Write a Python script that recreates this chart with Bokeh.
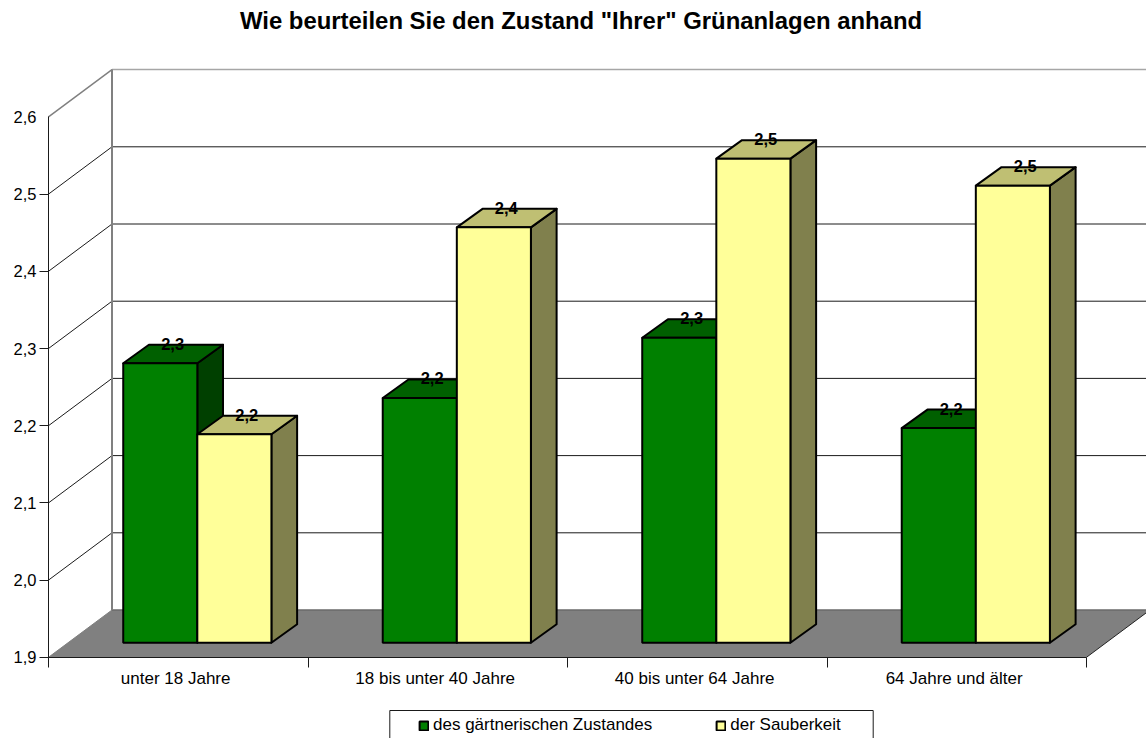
from bokeh.plotting import figure
from bokeh.models import BoxAnnotation, ColumnDataSource, FixedTicker, Label, LinearAxis, Legend, LegendItem, Range1d
from bokeh.core.properties import value
from bokeh.embed import file_html
from bokeh.resources import INLINE

# ---- data
title_text = 'Wie beurteilen Sie den Zustand "Ihrer" Grünanlagen anhand'
categories = ["unter 18 Jahre", "18 bis unter 40 Jahre", "40 bis unter 64 Jahre", "64 Jahre und älter"]
series_names = ["des gärtnerischen Zustandes", "der Sauberkeit"]
gaertnerisch = [2.262, 2.217, 2.295, 2.178]
sauberkeit = [2.170, 2.438, 2.527, 2.492]
gaertnerisch_labels = ["2,3", "2,2", "2,3", "2,2"]
sauberkeit_labels = ["2,2", "2,4", "2,5", "2,5"]
y_ticks = [1.9, 2.0, 2.1, 2.2, 2.3, 2.4, 2.5, 2.6]
y_tick_labels = ["1,9", "2,0", "2,1", "2,2", "2,3", "2,4", "2,5", "2,6"]

# ---- projection of the pseudo-3D box, in axis units
W, H = 1146, 738
ORIGIN_X, ORIGIN_Y = 48.0, 656.8    # where category 0 / value 1.9 fall on the page
PX_X, PX_Y = 259.5, 772.0           # px per category, px per value unit
WALL_DX, WALL_DY = 63.5 / PX_X, 47.3 / PX_Y
BAR_DX, BAR_DY = 25.7 / PX_X, 18.5 / PX_Y
BASE_DY = 14.6 / PX_Y
OFFSETS = (0.288, 0.5735, 0.859)
YMIN, YTOP = y_ticks[0], y_ticks[-1]
FONT = "Liberation Sans"


def page_x(px):
    return (px - ORIGIN_X) / PX_X


def page_y(py):
    return YMIN + (ORIGIN_Y - py) / PX_Y


p = figure(width=W, height=H, output_backend="svg", toolbar_location=None,
           x_range=Range1d(page_x(0), page_x(W)), y_range=Range1d(page_y(H), page_y(0)),
           x_axis_type=None, y_axis_type=None, min_border=0, background_fill_color="white",
           border_fill_color="white", outline_line_color=None)
p.xgrid.visible = False
p.ygrid.visible = False

p.add_layout(Label(x=page_x(580.5), y=page_y(20), text=title_text, text_align="center",
                   text_baseline="middle", text_font=FONT, text_font_size="23.9px",
                   text_font_style="bold", text_color="black"))

n = len(categories)
x_end = n + WALL_DX

# floor
p.patch([0, n, x_end, WALL_DX], [YMIN, YMIN, YMIN + WALL_DY, YMIN + WALL_DY],
        fill_color="#808080", line_color=None)
p.line([WALL_DX, x_end], [YMIN + WALL_DY] * 2, line_color="#6a6a6a", line_width=1.5)
p.line([n, x_end], [YMIN, YMIN + WALL_DY], line_color="#222222", line_width=1)
p.line([0, WALL_DX], [YMIN, YMIN + WALL_DY], line_color="#808080", line_width=1)

# grid on the walls
inner = y_ticks[1:-1]
p.multi_line([[0, WALL_DX] for _ in inner], [[v, v + WALL_DY] for v in inner],
             line_color="#1a1a1a", line_width=1)
p.multi_line([[WALL_DX, x_end] for _ in inner], [[v + WALL_DY] * 2 for v in inner],
             line_color="#1a1a1a", line_width=1)
p.line([0, WALL_DX], [YTOP, YTOP + WALL_DY], line_color="#808080", line_width=1.5)
p.line([WALL_DX, x_end], [YTOP + WALL_DY] * 2, line_color="#a6a6a6", line_width=1.5)
p.line([WALL_DX, WALL_DX], [YMIN + WALL_DY, YTOP + WALL_DY], line_color="#808080", line_width=2)


def bars(values, x_off, front, top, side):
    bottom = YMIN + BASE_DY
    w = OFFSETS[1] - OFFSETS[0]
    lefts = [i + x_off for i in range(n)]
    rights = [l + w for l in lefts]
    tops = [v + BASE_DY for v in values]
    p.patches([[r, r + BAR_DX, r + BAR_DX, r] for r in rights],
              [[bottom, bottom + BAR_DY, t + BAR_DY, t] for t in tops],
              fill_color=side, line_color="black", line_width=2, line_join="round")
    p.patches([[l, l + BAR_DX, r + BAR_DX, r] for l, r in zip(lefts, rights)],
              [[t, t + BAR_DY, t + BAR_DY, t] for t in tops],
              fill_color=top, line_color="black", line_width=2, line_join="round")
    return p.quad(left=lefts, right=rights, bottom=bottom, top=tops,
                  fill_color=front, line_color="black", line_width=2)


r1 = bars(gaertnerisch, OFFSETS[0], "#008000", "#006000", "#004000")
r2 = bars(sauberkeit, OFFSETS[1], "#FFFF99", "#BFBF73", "#80804D")


def labels(values, texts, x_off):
    w = OFFSETS[1] - OFFSETS[0]
    src = ColumnDataSource(dict(
        x=[i + x_off + w / 2 + BAR_DX / 2 - 0.5 / PX_X for i in range(n)],
        y=[v + BASE_DY + BAR_DY + 1 / PX_Y for v in values], t=texts))
    p.text(x="x", y="y", text="t", source=src, text_align="center", text_baseline="middle",
           text_font=value(FONT), text_font_size="16.5px", text_font_style="bold", text_color="black")


labels(gaertnerisch, gaertnerisch_labels, OFFSETS[0])
labels(sauberkeit, sauberkeit_labels, OFFSETS[1])

# axes, fixed inside the full-page frame
yaxis = LinearAxis(fixed_location=0,
                   ticker=FixedTicker(ticks=y_ticks, minor_ticks=y_ticks[:-1]),
                   major_label_overrides=dict(zip(y_ticks, y_tick_labels)),
                   bounds=(YMIN, YTOP), major_tick_line_color=None, major_tick_out=0, major_tick_in=0,
                   minor_tick_out=9, minor_tick_in=0, minor_tick_line_color="#1a1a1a",
                   axis_line_color="#1a1a1a", major_label_standoff=3,
                   major_label_text_font=FONT, major_label_text_font_size="16.5px",
                   major_label_text_color="black")
p.add_layout(yaxis, "left")

centers = [i + 0.49 for i in range(n)]
xaxis = LinearAxis(fixed_location=YMIN,
                   ticker=FixedTicker(ticks=centers, minor_ticks=list(range(n + 1))),
                   major_label_overrides=dict(zip(centers, categories)),
                   bounds=(0, n), major_tick_line_color=None, major_tick_out=0, major_tick_in=0,
                   minor_tick_out=10, minor_tick_in=0, minor_tick_line_color="#1a1a1a",
                   axis_line_color="#1a1a1a", major_label_standoff=2,
                   major_label_text_font=FONT, major_label_text_font_size="17px",
                   major_label_text_color="black")
p.add_layout(xaxis, "below")

# legend and its frame, which runs past the lower picture edge
legend = Legend(items=[LegendItem(label=series_names[0], renderers=[r1]),
                       LegendItem(label=series_names[1], renderers=[r2])],
                orientation="horizontal", location=(418, 3), padding=4, margin=0, spacing=63,
                glyph_width=11, glyph_height=11, label_standoff=4,
                label_text_font=FONT, label_text_font_size="17px", label_text_color="black",
                border_line_color=None, background_fill_alpha=0,
                click_policy="none")
p.add_layout(legend, "center")

p.add_layout(BoxAnnotation(left=page_x(389.3), right=page_x(872.7), top=page_y(710), bottom=page_y(745),
                           fill_color=None, line_color="#1a1a1a", line_alpha=1, line_width=1))

open("out.html", "w").write(file_html(p, INLINE))
